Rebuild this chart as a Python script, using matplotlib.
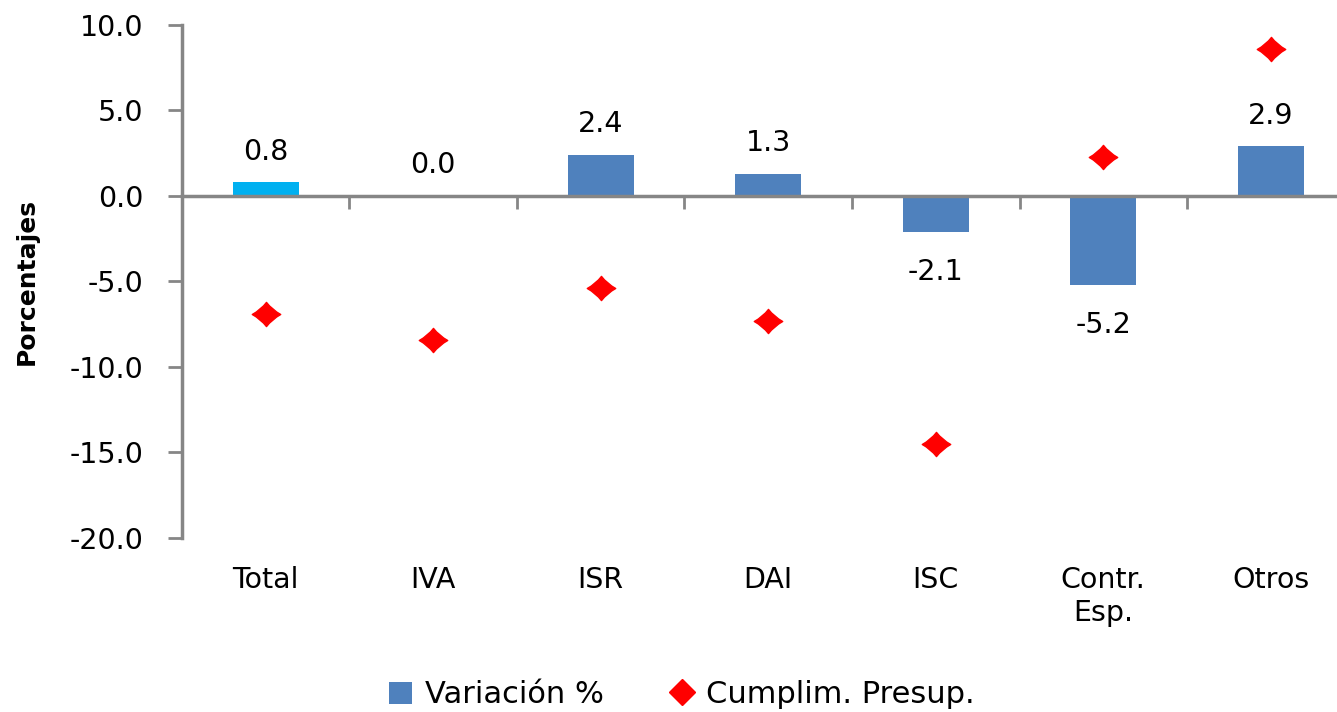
import matplotlib
matplotlib.use("Agg")
import matplotlib.pyplot as plt
from matplotlib.path import Path
from matplotlib.lines import Line2D
from matplotlib.patches import Patch

categories = ["Total", "IVA", "ISR", "DAI", "ISC", "Contr.\nEsp.", "Otros"]
variacion = [0.8, 0.0, 2.4, 1.3, -2.1, -5.2, 2.9]
cumplimiento = [-6.9, -8.4, -5.4, -7.3, -14.5, 2.3, 8.6]
y_ticks = [10.0, 5.0, 0.0, -5.0, -10.0, -15.0, -20.0]

BLUE = "#4F81BD"
CYAN = "#00B0F0"
RED = "#FF0000"
GRAY = "#868686"

plt.rcParams["font.family"] = ["DejaVu Sans"]

# diamond with gently concave sides
verts = [(0, 0.85), (0.4, 0.33), (1, 0), (0.4, -0.33), (0, -0.85),
         (-0.4, -0.33), (-1, 0), (-0.4, 0.33), (0, 0.85), (0, 0.85)]
codes = [Path.MOVETO, Path.CURVE3, Path.CURVE3, Path.CURVE3, Path.CURVE3,
         Path.CURVE3, Path.CURVE3, Path.CURVE3, Path.CURVE3, Path.CLOSEPOLY]
star = Path(verts, codes)

fig = plt.figure(figsize=(13.37, 7.12), dpi=100)
ax = fig.add_axes([0.1361, 0.2444, 0.877, 0.7205])

x = list(range(len(categories)))
colors = [CYAN] + [BLUE] * (len(categories) - 1)
ax.bar(x, variacion, width=0.395, color=colors, zorder=2)
ax.plot(x, cumplimiento, linestyle="none", marker=star, markersize=20.5,
        color=RED, zorder=3)

for xi, v in zip(x, variacion):
    off = 22 if v >= 0 else -29
    ax.annotate(f"{v:.1f}", (xi, v), xytext=(0, off), textcoords="offset points",
                ha="center", va="center", fontsize=20.5, color="black")

ax.set_xlim(-0.5, len(categories) - 0.5)
ax.set_ylim(-20, 10)
ax.set_yticks(y_ticks)
ax.set_yticklabels([f"{t:.1f}" for t in y_ticks])
ax.tick_params(axis="y", direction="out", length=10, width=2, color=GRAY,
               labelsize=20.5, pad=18)

for s in ["top", "right"]:
    ax.spines[s].set_visible(False)
ax.spines["left"].set_color(GRAY)
ax.spines["left"].set_linewidth(2.5)
ax.spines["bottom"].set_position(("data", 0))
ax.spines["bottom"].set_color(GRAY)
ax.spines["bottom"].set_linewidth(2.5)
ax.spines["bottom"].set_zorder(4)

ax.set_xticks([i + 0.5 for i in x])
ax.set_xticklabels([])
ax.tick_params(axis="x", direction="out", length=9, width=2, color=GRAY)

sec = ax.secondary_xaxis("bottom")
sec.spines["bottom"].set_visible(False)
sec.set_xticks(x)
sec.set_xticklabels(categories, fontsize=20.5, linespacing=1.25)
sec.tick_params(axis="x", length=0, pad=20)

ax.set_ylabel("Porcentajes", fontsize=18, fontweight="bold", labelpad=22)

handles = [Patch(facecolor=BLUE, edgecolor="none"),
           Line2D([], [], linestyle="none", marker="D", markersize=13, color=RED)]
fig.legend(handles, ["Variación %", "Cumplim. Presup."], loc="center",
           bbox_to_anchor=(0.51, 0.024), ncol=2, frameon=False, fontsize=22,
           handlelength=0.75, handleheight=0.75, handletextpad=0.4,
           columnspacing=2.2)

fig.savefig("out.png", dpi=100)
